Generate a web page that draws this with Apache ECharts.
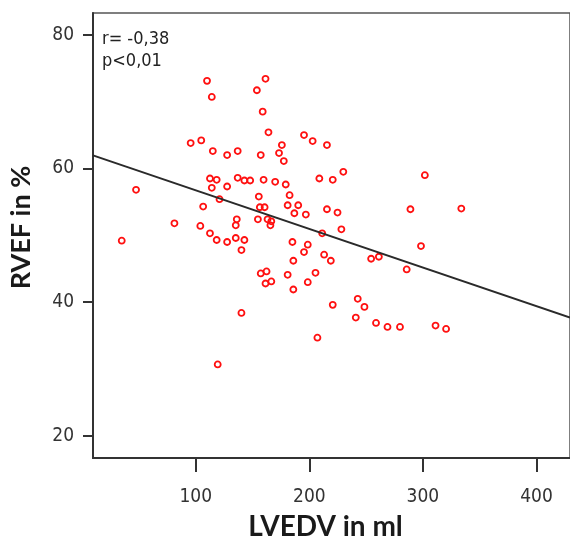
<!DOCTYPE html>
<html>
<head>
<meta charset="utf-8">
<script src="https://cdn.jsdelivr.net/npm/echarts@6/dist/echarts.min.js"></script>
<style>
html,body{margin:0;padding:0;background:#fff;}
#chart{width:570px;height:546px;}
</style>
</head>
<body>
<div id="chart"></div>
<script>
// LVEDV (ml) values of each patient
var lvedv = [109.9,114.1,161.4,153.8,158.9,164.0,95.5,104.8,115.0,127.6,
             136.9,157.2,173.3,175.8,177.5,195.3,202.9,215.5,229.9,301.7,
             112.5,118.4,114.1,127.6,136.9,142.8,147.9,159.7,169.9,179.2,
             208.8,220.6,47.4,120.9,106.5,155.5,182.6,156.4,160.6,180.9,
             190.2,186.8,196.9,215.5,224.8,289.0,333.8,81.2,136.1,135.2,
             154.7,163.2,166.5,165.7,104.0,228.2,211.3,34.8,112.5,118.4,
             127.6,135.2,142.8,140.2,185.1,198.6,195.3,298.3,185.9,213.0,
             218.9,254.4,261.2,285.7,157.2,162.3,161.4,166.5,180.9,205.4,
             198.6,185.9,220.6,242.6,248.5,240.9,258.7,268.8,279.8,311.1,
             320.4,207.1,140.2,119.3];
// RVEF (%) values of each patient
var rvef = [73.1,70.7,73.4,71.7,68.5,65.4,63.8,64.2,62.6,62.0,
            62.6,62.0,62.3,63.5,61.1,65.0,64.1,63.5,59.5,59.0,
            58.5,58.3,57.1,57.3,58.6,58.2,58.2,58.3,58.0,57.6,
            58.5,58.3,56.8,55.4,54.3,55.8,56.0,54.2,54.2,54.5,
            54.5,53.3,53.1,53.9,53.4,53.9,54.0,51.8,52.4,51.5,
            52.4,52.4,52.1,51.5,51.4,50.9,50.3,49.2,50.3,49.3,
            49.0,49.6,49.3,47.8,49.0,48.6,47.5,48.4,46.2,47.1,
            46.2,46.5,46.8,44.9,44.3,44.6,42.8,43.1,44.1,44.4,
            43.0,41.9,39.6,40.5,39.3,37.7,36.9,36.3,36.3,36.5,
            36.0,34.7,38.4,30.7];
// Regression line end points
var fitX = [9.5, 429.5];
var fitY = [61.95, 37.7];
// Tick labels
var xTicks = [100, 200, 300, 400];
var yTicks = [20, 40, 60, 80];

var points = lvedv.map(function (v, i) { return [v, rvef[i]]; });
var fitLine = fitX.map(function (v, i) { return [v, fitY[i]]; });

var narrow = '"Liberation Sans Narrow", "DejaVu Sans Condensed", "Liberation Sans", Arial, sans-serif';
var chart = echarts.init(document.getElementById('chart'), null, {renderer: 'canvas'});
var tickFont = {fontFamily: narrow, fontSize: 19, color: '#333'};
chart.setOption({
  animation: false,
  backgroundColor: '#fff',
  title: {
    text: 'r= -0,38\np<0,01',
    left: 97, top: 23,
    textStyle: {fontFamily: narrow, fontSize: 18, fontWeight: 'normal', color: '#222', lineHeight: 22}
  },
  grid: {
    left: 93, top: 13, right: -20, bottom: 82,
    show: true, borderColor: '#555', borderWidth: 1.5, backgroundColor: 'transparent'
  },
  xAxis: {
    type: 'value', min: 9.5, max: 429.5,
    name: 'LVEDV in ml', nameLocation: 'middle', nameGap: 55,
    nameTextStyle: {fontFamily: 'Lato, "Open Sans", sans-serif', fontWeight: 'bold', fontSize: 28, color: '#1a1a1a', padding: [0, 12, 0, 0]},
    axisLine: {show: true, lineStyle: {color: '#333', width: 2}},
    axisTick: {show: true, length: 14, lineStyle: {color: '#333', width: 2}, customValues: xTicks},
    axisLabel: Object.assign({margin: 30, customValues: xTicks}, tickFont),
    splitLine: {show: false}
  },
  yAxis: {
    type: 'value', min: 16.7, max: 83.25,
    name: 'RVEF in %', nameLocation: 'middle', nameGap: 58, nameRotate: 90,
    nameTextStyle: {fontFamily: 'Lato, "Open Sans", sans-serif', fontWeight: 'bold', fontSize: 27, color: '#1a1a1a', padding: [0, 0, 0, 16]},
    axisLine: {show: true, lineStyle: {color: '#333', width: 2}},
    axisTick: {show: true, length: 10, lineStyle: {color: '#333', width: 2}, customValues: yTicks},
    axisLabel: Object.assign({margin: 19, customValues: yTicks}, tickFont),
    splitLine: {show: false}
  },
  series: [
    {
      type: 'scatter',
      data: points,
      symbol: 'circle',
      symbolSize: 6,
      itemStyle: {color: 'rgba(255,255,255,0)', borderColor: '#ff1010', borderWidth: 1.8, opacity: 1},
      z: 2
    },
    {
      type: 'line',
      data: fitLine,
      symbol: 'none',
      lineStyle: {color: '#2a2a2a', width: 2},
      z: 3
    }
  ]
});
</script>
</body>
</html>
